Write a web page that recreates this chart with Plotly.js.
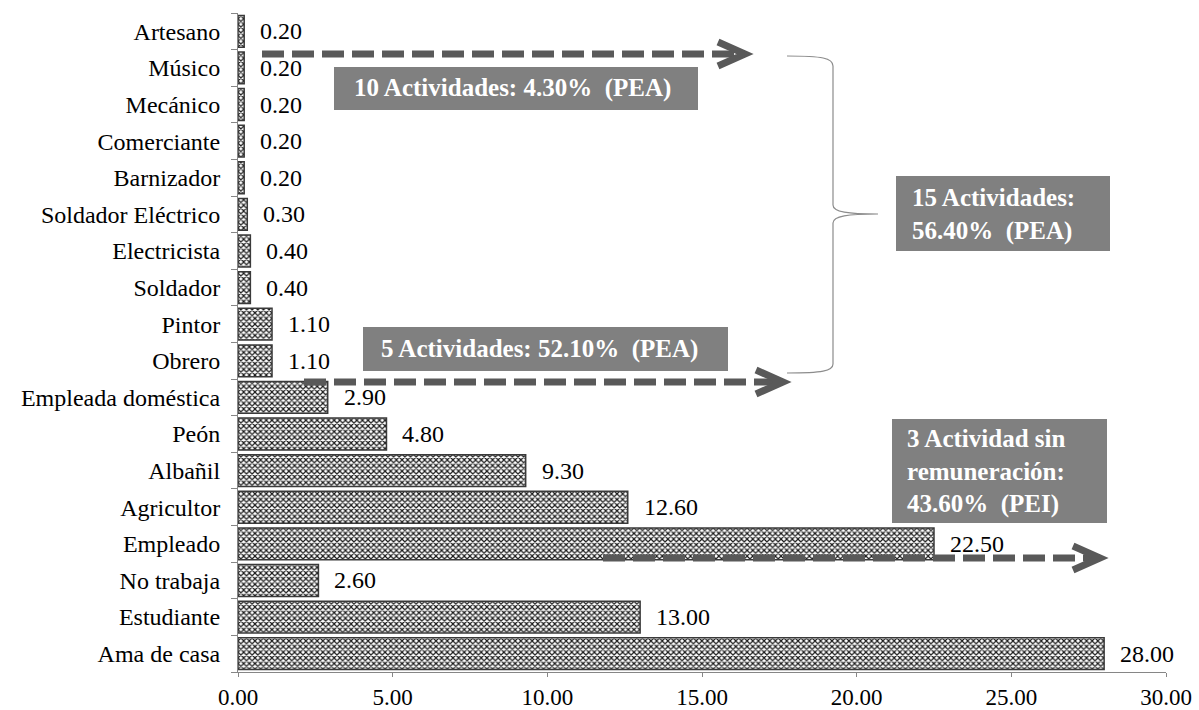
<!DOCTYPE html>
<html>
<head>
<meta charset="utf-8">
<script src="https://cdn.plot.ly/plotly-3.0.1.min.js"></script>
<style>
svg text { font-family: "Liberation Serif", "Times New Roman", serif !important; }
</style>
</head>
<body style="margin:0">
<div id="chart" style="width:1199px;height:710px"></div>
<script>
// Data (bottom to top)
var categories = ["Ama de casa","Estudiante","No trabaja","Empleado","Agricultor","Albañil","Peón","Empleada doméstica","Obrero","Pintor","Soldador","Electricista","Soldador Eléctrico","Barnizador","Comerciante","Mecánico","Músico","Artesano"];
var values = [28.00,13.00,2.60,22.50,12.60,9.30,4.80,2.90,1.10,1.10,0.40,0.40,0.30,0.20,0.20,0.20,0.20,0.20];
var xTickVals = [0,5,10,15,20,25,30];
var boxTexts = [
  "10 Actividades: 4.30%\u00a0\u00a0(PEA)",
  "5 Actividades: 52.10%\u00a0\u00a0(PEA)",
  "15 Actividades:<br>56.40%\u00a0\u00a0(PEA)",
  "3 Actividad sin<br>remuneración:<br>43.60%\u00a0\u00a0(PEI)"
];

var FONT = "Liberation Serif";
var L = 238, R = 33, T = 13, B = 38, W = 1199, H = 710;
var PW = W - L - R, PH = H - T - B;
function px(x){ return (x - L) / PW; }
function py(y){ return (H - B - y) / PH; }

var trace = {
  type: 'bar', orientation: 'h',
  y: categories, x: values,
  marker: {
    color: '#ffffff',
    line: {color: '#3a3a3a', width: 1.5},
    pattern: {shape: 'x', size: 4, solidity: 0.5, fgcolor: '#1a1a1a', bgcolor: '#ffffff', fillmode: 'replace'}
  },
  hoverinfo: 'none'
};

var annotations = [];
for (var i = 0; i < values.length; i++) {
  annotations.push({
    x: values[i], y: categories[i], xref: 'x', yref: 'y',
    text: values[i].toFixed(2), showarrow: false,
    xanchor: 'left', yanchor: 'middle', xshift: 14,
    font: {family: FONT, size: 24, color: '#000000'}
  });
}

var boxFont = {family: FONT, size: 25, color: '#ffffff'};
var shapes = [];
var GRAY = '#808080';
function rect(x0,y0,x1,y1){
  shapes.push({type:'rect', xref:'paper', yref:'paper', x0:px(x0), x1:px(x1), y0:py(y1), y1:py(y0), fillcolor:GRAY, line:{width:0}, layer:'above'});
}
rect(334,67,698,110);
rect(363,327,728,371);
rect(896,176,1110,251);
rect(892,419,1107,523);
annotations.push({xref:'paper', yref:'paper', x:px(512), y:py(88.5), xanchor:'center', yanchor:'middle', text:'<b>'+boxTexts[0]+'</b>', showarrow:false, font:boxFont});
annotations.push({xref:'paper', yref:'paper', x:px(539), y:py(349), xanchor:'center', yanchor:'middle', text:'<b>'+boxTexts[1]+'</b>', showarrow:false, font:boxFont});
annotations.push({xref:'paper', yref:'paper', x:px(910), y:py(214), xanchor:'left', yanchor:'middle', align:'left', text:'<b>'+boxTexts[2]+'</b>', showarrow:false, font:boxFont});
annotations.push({xref:'paper', yref:'paper', x:px(905), y:py(471), xanchor:'left', yanchor:'middle', align:'left', text:'<b>'+boxTexts[3]+'</b>', showarrow:false, font:boxFont});

var AC = '#595959';
function arrow(x0, x1, y){
  shapes.push({type:'line', xref:'paper', yref:'paper', x0:px(x0), x1:px(x1-6), y0:py(y), y1:py(y), line:{color:AC, width:7, dash:'22px,8px'}, layer:'above'});
  var p = 'M ' + px(x1-27) + ',' + py(y-12) + ' L ' + px(x1) + ',' + py(y) + ' L ' + px(x1-27) + ',' + py(y+12);
  shapes.push({type:'path', xref:'paper', yref:'paper', path:p, line:{color:AC, width:7}, layer:'above'});
}
arrow(262, 745, 54);
arrow(304, 783, 382);
arrow(603, 1100, 558);

function P(x,y){ return px(x)+','+py(y); }
var brace = 'M ' + P(787,56) + ' C ' + P(822,56) + ' ' + P(833,58) + ' ' + P(833,66) +
  ' L ' + P(833,205) + ' C ' + P(833,212) + ' ' + P(848,214) + ' ' + P(878,214) +
  ' C ' + P(848,214) + ' ' + P(833,216) + ' ' + P(833,223) +
  ' L ' + P(833,364) + ' C ' + P(833,371) + ' ' + P(822,373) + ' ' + P(787,373);
shapes.push({type:'path', xref:'paper', yref:'paper', path:brace, line:{color:'#8c8c8c', width:1.2}, layer:'above'});

var layout = {
  width: W, height: H,
  margin: {l: L, r: R, t: T, b: B, pad: 0},
  showlegend: false,
  bargap: 0.13,
  font: {family: FONT},
  xaxis: {
    range: [0, 30], tickvals: xTickVals, tickformat: '.2f',
    showgrid: false, zeroline: false,
    showline: true, linecolor: '#868686', linewidth: 1,
    ticks: 'outside', ticklen: 4, tickcolor: '#868686',
    tickfont: {family: FONT, size: 23, color: '#000000'}
  },
  yaxis: {
    type: 'category', range: [-0.5, 17.5],
    showgrid: false, zeroline: false,
    showline: true, linecolor: '#868686', linewidth: 1,
    ticks: 'outside', ticklen: 6, tickcolor: '#868686', tickson: 'boundaries',
    ticklabelstandoff: 12,
    tickfont: {family: FONT, size: 24, color: '#000000'}
  },
  shapes: shapes,
  annotations: annotations
};

Plotly.newPlot('chart', [trace], layout, {displayModeBar: false});
</script>
</body>
</html>
